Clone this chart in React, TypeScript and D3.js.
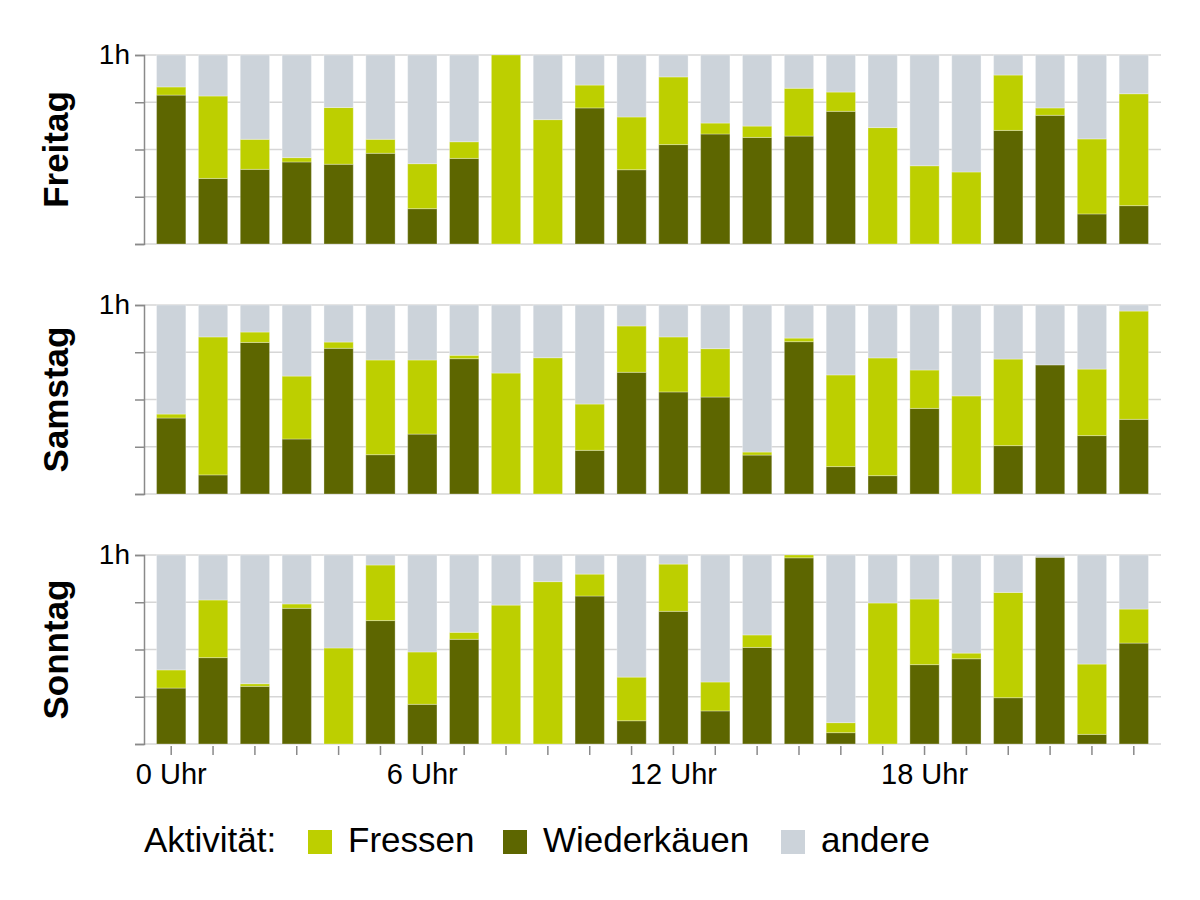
import React, { useEffect, useRef } from 'react';
import * as d3 from 'd3';

// Stunden 0..23
const hours: number[] = d3.range(24);
const hourLabels: Record<number, string> = { 0: '0 Uhr', 6: '6 Uhr', 12: '12 Uhr', 18: '18 Uhr' };
const yTicks = [0, 0.25, 0.5, 0.75, 1];

const days: string[] = ['Freitag', 'Samstag', 'Sonntag'];

// Anteil einer Stunde (0..1)
const wiederkaeuenFreitag = [0.788, 0.347, 0.395, 0.434, 0.422, 0.48, 0.187, 0.453, 0, 0, 0.72, 0.393, 0.526, 0.582, 0.564, 0.571, 0.702, 0, 0, 0, 0.601, 0.681, 0.159, 0.203];
const fressenFreitag = [0.043, 0.436, 0.159, 0.023, 0.3, 0.074, 0.238, 0.088, 1.0, 0.658, 0.121, 0.279, 0.358, 0.058, 0.06, 0.253, 0.102, 0.616, 0.414, 0.381, 0.293, 0.039, 0.397, 0.592];

const wiederkaeuenSamstag = [0.402, 0.101, 0.802, 0.291, 0.771, 0.208, 0.317, 0.716, 0, 0, 0.231, 0.644, 0.54, 0.513, 0.206, 0.806, 0.145, 0.097, 0.453, 0, 0.256, 0.683, 0.309, 0.395];
const fressenSamstag = [0.021, 0.73, 0.055, 0.333, 0.033, 0.501, 0.392, 0.018, 0.64, 0.721, 0.245, 0.245, 0.291, 0.256, 0.016, 0.019, 0.485, 0.623, 0.203, 0.519, 0.458, 0, 0.352, 0.573];

const wiederkaeuenSonntag = [0.296, 0.457, 0.305, 0.718, 0, 0.653, 0.21, 0.554, 0, 0, 0.783, 0.123, 0.702, 0.175, 0.511, 0.985, 0.06, 0, 0.42, 0.451, 0.245, 0.988, 0.051, 0.534];
const fressenSonntag = [0.096, 0.305, 0.014, 0.023, 0.508, 0.294, 0.277, 0.037, 0.735, 0.859, 0.116, 0.231, 0.25, 0.153, 0.066, 0.015, 0.053, 0.746, 0.347, 0.03, 0.557, 0, 0.372, 0.18];

const activities = ['Fressen', 'Wiederkäuen', 'andere'];
const colors: Record<string, string> = {
  Fressen: '#bdcf00',
  Wiederkäuen: '#5d6600',
  andere: '#ccd3da',
};

interface Row {
  hour: number;
  Wiederkäuen: number;
  Fressen: number;
  andere: number;
}

const FONT = '"Liberation Sans", Arial, sans-serif';

function App() {
  const ref = useRef<SVGSVGElement>(null);

  useEffect(() => {
    const svg = d3.select(ref.current);
    svg.selectAll('*').remove();

    const left = 144;
    const right = 1161;
    const panelTops = [55, 305, 555];
    const panelH = 189;

    const x = d3.scaleBand<number>()
      .domain(hours)
      .range([left, right])
      .paddingInner(0.3)
      .paddingOuter(0.3);

    const y = d3.scaleLinear().domain([0, 1]).range([panelH, 0]);

    const series = [
      { w: wiederkaeuenFreitag, f: fressenFreitag },
      { w: wiederkaeuenSamstag, f: fressenSamstag },
      { w: wiederkaeuenSonntag, f: fressenSonntag },
    ];

    const stack = d3.stack<Row>().keys(['Wiederkäuen', 'Fressen', 'andere']);

    days.forEach((day, i) => {
      const rows: Row[] = hours.map(h => ({
        hour: h,
        Wiederkäuen: series[i].w[h],
        Fressen: series[i].f[h],
        andere: Math.max(0, 1 - series[i].w[h] - series[i].f[h]),
      }));

      const g = svg.append('g').attr('transform', `translate(0,${panelTops[i]})`);

      // Gitterlinien
      g.append('g')
        .selectAll('line')
        .data(yTicks)
        .enter().append('line')
        .attr('x1', left)
        .attr('x2', right)
        .attr('y1', d => y(d))
        .attr('y2', d => y(d))
        .attr('stroke', '#d6d6d6')
        .attr('stroke-width', 1.5);

      // Balken
      g.append('g')
        .selectAll('g')
        .data(stack(rows))
        .enter().append('g')
        .attr('fill', d => colors[d.key])
        .selectAll('rect')
        .data(d => d)
        .enter().append('rect')
        .attr('x', d => x(d.data.hour) as number)
        .attr('width', x.bandwidth())
        .attr('y', d => y(d[1]))
        .attr('height', d => Math.max(0, y(d[0]) - y(d[1])))
        .attr('stroke', '#ffffff')
        .attr('stroke-opacity', 0.3)
        .attr('stroke-width', 1);

      // Y-Achse
      const yAxis = g.append('g')
        .attr('transform', `translate(${left},0)`)
        .call(d3.axisLeft(y).tickValues(yTicks).tickSize(9).tickFormat(d => (+d === 1 ? '1h' : '')));
      yAxis.select('.domain').attr('stroke', '#8a8a8a').attr('stroke-width', 1.5);
      yAxis.selectAll('.tick line').attr('stroke', '#8a8a8a').attr('stroke-width', 1.5);
      yAxis.selectAll('.tick text')
        .attr('x', -14)
        .attr('font-size', 28)
        .attr('font-family', FONT)
        .attr('fill', '#000');

      // Panel-Titel
      g.append('text')
        .attr('transform', `translate(68,${panelH / 2}) rotate(-90)`)
        .attr('text-anchor', 'middle')
        .attr('font-family', FONT)
        .attr('font-weight', 'bold')
        .attr('font-size', 35)
        .text(day);

      // X-Achse nur unten
      if (i === days.length - 1) {
        const xAxis = g.append('g')
          .attr('transform', `translate(0,${panelH + 2})`)
          .call(d3.axisBottom(x).tickSize(9).tickPadding(8).tickFormat(d => hourLabels[d as number] ?? ''));
        xAxis.select('.domain').remove();
        xAxis.selectAll('.tick line').attr('stroke', '#8a8a8a').attr('stroke-width', 1.5);
        xAxis.selectAll('.tick text')
          .attr('font-size', 29)
          .attr('font-family', FONT)
          .attr('fill', '#000');
      }
    });

    // Legende
    const legend = svg.append('g').attr('font-family', FONT).attr('font-size', 35);
    legend.append('text').attr('x', 144).attr('y', 852).text('Aktivität:');
    const legendX = [308, 503, 781];
    activities.forEach((a, i) => {
      legend.append('rect')
        .attr('x', legendX[i])
        .attr('y', 830)
        .attr('width', 24)
        .attr('height', 24)
        .attr('fill', colors[a]);
      legend.append('text')
        .attr('x', legendX[i] + 40)
        .attr('y', 852)
        .text(a);
    });
  }, []);

  return (
    <svg
      ref={ref}
      width={1200}
      height={900}
      style={{ position: 'absolute', left: 0, top: 0, background: '#fff' }}
    />
  );
}

export default App;
